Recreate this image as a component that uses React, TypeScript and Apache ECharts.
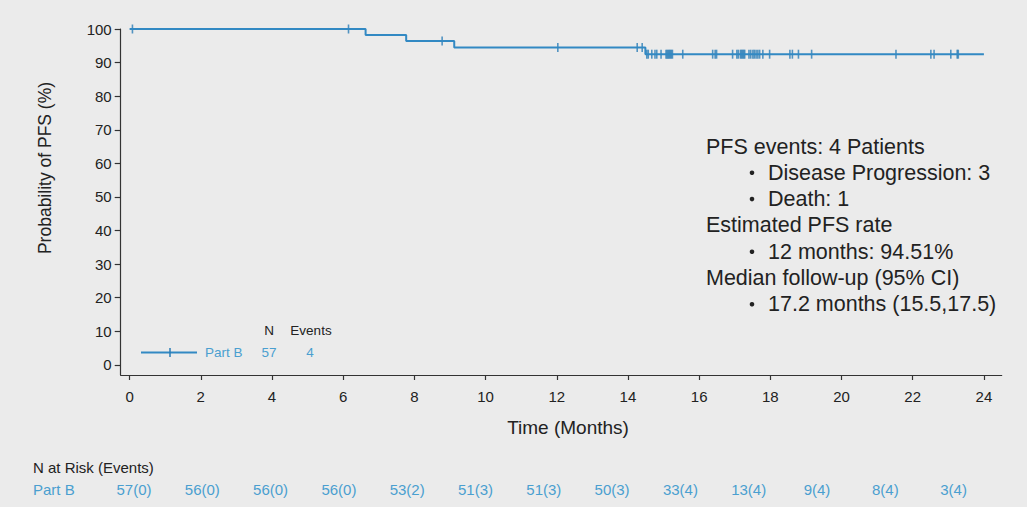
import React, { useEffect, useRef } from "react";
import * as echarts from "echarts";

// ---- data ----
const stepTimes = [0, 6.63, 7.77, 9.12, 14.49, 24.0];
const stepPfs = [100, 98.2, 96.4, 94.5, 92.5, 92.5];
const censorTimes = [
  0.08, 6.15, 8.78, 12.03, 14.26, 14.4,
  14.53, 14.57, 14.67, 14.76, 14.81, 14.93, 15.07, 15.1, 15.13, 15.16, 15.19, 15.22, 15.25, 15.54,
  16.38, 16.45, 16.49, 16.94, 17.06, 17.1, 17.16, 17.19, 17.22, 17.25, 17.28, 17.4, 17.45, 17.51, 17.55,
  17.6, 17.65, 17.7, 17.79, 17.98,
  18.55, 18.62, 18.79, 19.16, 21.53, 22.51, 22.6, 23.07, 23.25, 23.28,
];
const xTicks = [0, 2, 4, 6, 8, 10, 12, 14, 16, 18, 20, 22, 24];
const yTicks = [0, 10, 20, 30, 40, 50, 60, 70, 80, 90, 100];
const atRiskLabels = [
  "57(0)", "56(0)", "56(0)", "56(0)", "53(2)", "51(3)", "51(3)",
  "50(3)", "33(4)", "13(4)", "9(4)", "8(4)", "3(4)",
];
const legendName = "Part B";
const legendN = "57";
const legendEvents = "4";
const annotLines: [string, boolean][] = [
  ["PFS events: 4 Patients", false],
  ["Disease Progression: 3", true],
  ["Death: 1", true],
  ["Estimated PFS rate", false],
  ["12 months: 94.51%", true],
  ["Median follow-up (95% CI)", false],
  ["17.2 months (15.5,17.5)", true],
];

const FONT = "'Liberation Sans', Arial, Helvetica, sans-serif";
const LINE = "#3289c3";
const CENSOR = "#2a7db6";
const TEXTBLUE = "#4a9fd0";
const DARK = "#222222";

function pfsAt(t: number): number {
  let v = stepPfs[0];
  for (let i = 0; i < stepTimes.length; i++) {
    if (stepTimes[i] <= t) v = stepPfs[i];
  }
  return v;
}

export default function App() {
  const ref = useRef<HTMLDivElement>(null);
  useEffect(() => {
    if (!ref.current) return;
    const chart = echarts.init(ref.current, undefined, { renderer: "svg" });

    const graphic: any[] = [];
    // axis names
    graphic.push({
      type: "text",
      x: 568,
      y: 427,
      style: { text: "Time (Months)", font: `19px ${FONT}`, fill: DARK, textAlign: "center", textVerticalAlign: "middle" },
    });
    graphic.push({
      type: "text",
      x: 45,
      y: 168,
      rotation: Math.PI / 2,
      style: { text: "Probability of PFS (%)", font: `17.5px ${FONT}`, fill: DARK, textAlign: "center", textVerticalAlign: "middle" },
    });
    // legend
    graphic.push({ type: "line", shape: { x1: 141, y1: 352.5, x2: 197, y2: 352.5 }, style: { stroke: LINE, lineWidth: 2 } });
    graphic.push({ type: "line", shape: { x1: 170, y1: 348, x2: 170, y2: 357 }, style: { stroke: CENSOR, lineWidth: 1.5 } });
    graphic.push({ type: "text", x: 205, y: 352.5, style: { text: legendName, font: `13.5px ${FONT}`, fill: TEXTBLUE, textAlign: "left", textVerticalAlign: "middle" } });
    graphic.push({ type: "text", x: 269, y: 330, style: { text: "N", font: `13.5px ${FONT}`, fill: DARK, textAlign: "center", textVerticalAlign: "middle" } });
    graphic.push({ type: "text", x: 311, y: 330, style: { text: "Events", font: `13.5px ${FONT}`, fill: DARK, textAlign: "center", textVerticalAlign: "middle" } });
    graphic.push({ type: "text", x: 269, y: 352.5, style: { text: legendN, font: `13.5px ${FONT}`, fill: TEXTBLUE, textAlign: "center", textVerticalAlign: "middle" } });
    graphic.push({ type: "text", x: 310, y: 352.5, style: { text: legendEvents, font: `13.5px ${FONT}`, fill: TEXTBLUE, textAlign: "center", textVerticalAlign: "middle" } });
    // annotation
    annotLines.forEach(([t, bullet], i) => {
      const y = 146.5 + i * 26.3;
      if (bullet) {
        graphic.push({ type: "circle", shape: { cx: 752, cy: y, r: 2.3 }, style: { fill: DARK } });
        graphic.push({ type: "text", x: 768, y, style: { text: t, font: `21.5px ${FONT}`, fill: DARK, textAlign: "left", textVerticalAlign: "middle" } });
      } else {
        graphic.push({ type: "text", x: 706, y, style: { text: t, font: `21.5px ${FONT}`, fill: DARK, textAlign: "left", textVerticalAlign: "middle" } });
      }
    });
    // at-risk table
    graphic.push({ type: "text", x: 33, y: 467, style: { text: "N at Risk (Events)", font: `15px ${FONT}`, fill: DARK, textAlign: "left", textVerticalAlign: "middle" } });
    graphic.push({ type: "text", x: 33, y: 489, style: { text: legendName, font: `15px ${FONT}`, fill: TEXTBLUE, textAlign: "left", textVerticalAlign: "middle" } });
    atRiskLabels.forEach((t, i) => {
      graphic.push({ type: "text", x: 134 + i * 68.3, y: 489, style: { text: t, font: `15px ${FONT}`, fill: TEXTBLUE, textAlign: "center", textVerticalAlign: "middle" } });
    });

    chart.setOption({
      animation: false,
      backgroundColor: "#ebebeb",
      grid: { left: 120.7, right: 25.3, top: 29, bottom: 132, containLabel: false },
      xAxis: {
        type: "value",
        min: -0.25,
        max: 24.5,
        axisLine: { show: true, onZero: false, lineStyle: { color: "#333", width: 1.2 } },
        axisTick: { show: true, customValues: xTicks, length: 5, lineStyle: { color: "#333", width: 1.2 } },
        axisLabel: { customValues: xTicks, fontSize: 15, color: DARK, margin: 14, fontFamily: FONT },
        splitLine: { show: false },
      },
      yAxis: {
        type: "value",
        min: -3,
        max: 100,
        axisLine: { show: true, onZero: false, lineStyle: { color: "#333", width: 1.2 } },
        axisTick: { show: true, customValues: yTicks, length: 6, lineStyle: { color: "#333", width: 1.2 } },
        axisLabel: { customValues: yTicks, fontSize: 15, color: DARK, margin: 9, fontFamily: FONT },
        splitLine: { show: false },
      },
      series: [
        {
          type: "line",
          step: "end",
          data: stepTimes.map((t, i) => [t, stepPfs[i]]),
          showSymbol: false,
          symbol: "none",
          clip: false,
          lineStyle: { color: LINE, width: 2 },
        },
        {
          type: "scatter",
          data: censorTimes.map((t) => [t, pfsAt(t)]),
          symbol: "rect",
          symbolSize: [1.6, 9],
          clip: false,
          itemStyle: { color: CENSOR },
        },
      ],
      graphic,
    });
    return () => chart.dispose();
  }, []);
  return <div ref={ref} style={{ position: "fixed", left: 0, top: 0, width: 1027, height: 507 }} />;
}
